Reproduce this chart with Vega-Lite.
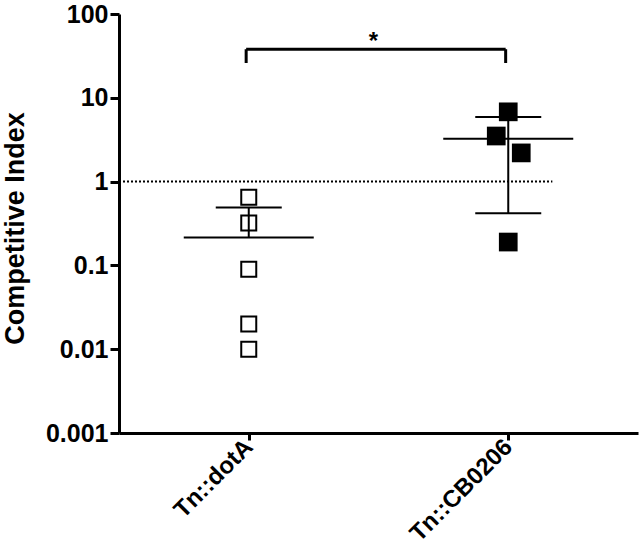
{
  "$schema": "https://vega.github.io/schema/vega-lite/v6.json",
  "autosize": {"type": "none"},
  "width": 519,
  "height": 419,
  "padding": {"left": 119, "top": 14, "right": 3, "bottom": 115},
  "background": "white",
  "config": {
    "view": {"stroke": null},
    "font": "Liberation Sans",
    "axis": {"grid": false, "domainColor": "#000", "domainWidth": 3, "tickColor": "#000", "tickWidth": 3, "labelColor": "#000", "titleColor": "#000", "labelFont": "Liberation Sans", "titleFont": "Liberation Sans", "labelFontWeight": "bold", "titleFontWeight": "bold"}
  },
  "datasets": {
    "points": [
      {"group": "Tn::dotA", "pos": 1, "jitter": 0, "ci": 0.65},
      {"group": "Tn::dotA", "pos": 1, "jitter": 0, "ci": 0.32},
      {"group": "Tn::dotA", "pos": 1, "jitter": 0, "ci": 0.09},
      {"group": "Tn::dotA", "pos": 1, "jitter": 0, "ci": 0.02},
      {"group": "Tn::dotA", "pos": 1, "jitter": 0, "ci": 0.01},
      {"group": "Tn::CB0206", "pos": 2, "jitter": 0, "ci": 6.8},
      {"group": "Tn::CB0206", "pos": 2, "jitter": -1, "ci": 3.5},
      {"group": "Tn::CB0206", "pos": 2, "jitter": 1, "ci": 2.2},
      {"group": "Tn::CB0206", "pos": 2, "jitter": 0, "ci": 0.19}
    ],
    "summary": [
      {"group": "Tn::dotA", "pos": 1, "mean": 0.215, "upper": 0.49, "lower": null},
      {"group": "Tn::CB0206", "pos": 2, "mean": 3.25, "upper": 5.9, "lower": 0.42}
    ]
  },
  "layer": [
    {
      "data": {"values": [{}]},
      "mark": {"type": "rule", "color": "#000", "strokeWidth": 2, "strokeDash": [2, 2]},
      "encoding": {
        "x": {"datum": 0.5, "type": "quantitative", "scale": {"domain": [0.5, 2.5], "zero": false, "nice": false},
          "axis": {"values": [1, 2], "title": null, "labelExpr": "datum.value == 1 ? 'Tn::dotA' : 'Tn::CB0206'", "labelAngle": -45, "labelAlign": "right", "labelBaseline": "middle", "labelFontSize": 24, "labelLimit": 400, "labelBound": false, "tickSize": 7, "labelPadding": 3}},
        "x2": {"datum": 2.17},
        "y": {"datum": 1, "type": "quantitative", "scale": {"type": "log", "domain": [0.001, 100], "nice": false},
          "axis": {"values": [0.001, 0.01, 0.1, 1, 10, 100], "format": "~g", "labelFontSize": 25, "tickSize": 9, "labelPadding": 2, "title": "Competitive Index", "titleFontSize": 27, "titleX": -96, "titleY": 214, "titleBaseline": "alphabetic", "titleAngle": -90, "titleAlign": "center"}}
      }
    },
    {
      "data": {"name": "points"},
      "transform": [{"filter": "datum.pos == 1"}],
      "mark": {"type": "point", "shape": "square", "filled": false, "stroke": "#000", "strokeWidth": 2, "size": 225, "opacity": 1},
      "encoding": {
        "x": {"field": "pos", "type": "quantitative", "scale": {"domain": [0.5, 2.5], "zero": false, "nice": false}},
        "y": {"field": "ci", "type": "quantitative"}
      }
    },
    {
      "data": {"name": "points"},
      "transform": [{"filter": "datum.pos == 2 && datum.jitter == 0"}],
      "mark": {"type": "point", "shape": "square", "filled": true, "color": "#000", "size": 350, "opacity": 1},
      "encoding": {
        "x": {"field": "pos", "type": "quantitative"},
        "y": {"field": "ci", "type": "quantitative"}
      }
    },
    {
      "data": {"name": "points"},
      "transform": [{"filter": "datum.pos == 2 && datum.jitter == -1"}],
      "mark": {"type": "point", "shape": "square", "filled": true, "color": "#000", "size": 350, "opacity": 1, "xOffset": -12},
      "encoding": {
        "x": {"field": "pos", "type": "quantitative"},
        "y": {"field": "ci", "type": "quantitative"}
      }
    },
    {
      "data": {"name": "points"},
      "transform": [{"filter": "datum.pos == 2 && datum.jitter == 1"}],
      "mark": {"type": "point", "shape": "square", "filled": true, "color": "#000", "size": 350, "opacity": 1, "xOffset": 13},
      "encoding": {
        "x": {"field": "pos", "type": "quantitative"},
        "y": {"field": "ci", "type": "quantitative"}
      }
    },
    {
      "data": {"name": "summary"},
      "mark": {"type": "rule", "color": "#000", "strokeWidth": 2},
      "encoding": {
        "x": {"field": "pos", "type": "quantitative"},
        "y": {"field": "upper", "type": "quantitative"},
        "y2": {"field": "mean"}
      }
    },
    {
      "data": {"name": "summary"},
      "mark": {"type": "rule", "color": "#000", "strokeWidth": 2},
      "encoding": {
        "x": {"field": "pos", "type": "quantitative"},
        "y": {"field": "mean", "type": "quantitative"},
        "y2": {"field": "lower"}
      }
    },
    {
      "data": {"name": "summary"},
      "mark": {"type": "tick", "orient": "horizontal", "color": "#000", "size": 130, "thickness": 2, "opacity": 1},
      "encoding": {
        "x": {"field": "pos", "type": "quantitative"},
        "y": {"field": "mean", "type": "quantitative"}
      }
    },
    {
      "data": {"name": "summary"},
      "mark": {"type": "tick", "orient": "horizontal", "color": "#000", "size": 66, "thickness": 2, "opacity": 1},
      "encoding": {
        "x": {"field": "pos", "type": "quantitative"},
        "y": {"field": "upper", "type": "quantitative"}
      }
    },
    {
      "data": {"name": "summary"},
      "mark": {"type": "tick", "orient": "horizontal", "color": "#000", "size": 66, "thickness": 2, "opacity": 1},
      "encoding": {
        "x": {"field": "pos", "type": "quantitative"},
        "y": {"field": "lower", "type": "quantitative"}
      }
    },
    {
      "data": {"values": [{}]},
      "mark": {"type": "rule", "color": "#000", "strokeWidth": 3},
      "encoding": {
        "x": {"datum": 0.99, "type": "quantitative"},
        "x2": {"datum": 1.99},
        "y": {"datum": 38, "type": "quantitative"}
      }
    },
    {
      "data": {"values": [{"pos": 0.99}, {"pos": 1.99}]},
      "mark": {"type": "rule", "color": "#000", "strokeWidth": 3},
      "encoding": {
        "x": {"field": "pos", "type": "quantitative"},
        "y": {"datum": 38, "type": "quantitative"},
        "y2": {"datum": 26}
      }
    },
    {
      "data": {"values": [{}]},
      "mark": {"type": "text", "text": "*", "fontSize": 24, "fontWeight": "bold", "color": "#000", "baseline": "alphabetic", "dy": 0},
      "encoding": {
        "x": {"datum": 1.48, "type": "quantitative"},
        "y": {"datum": 38, "type": "quantitative"}
      }
    }
  ]
}
